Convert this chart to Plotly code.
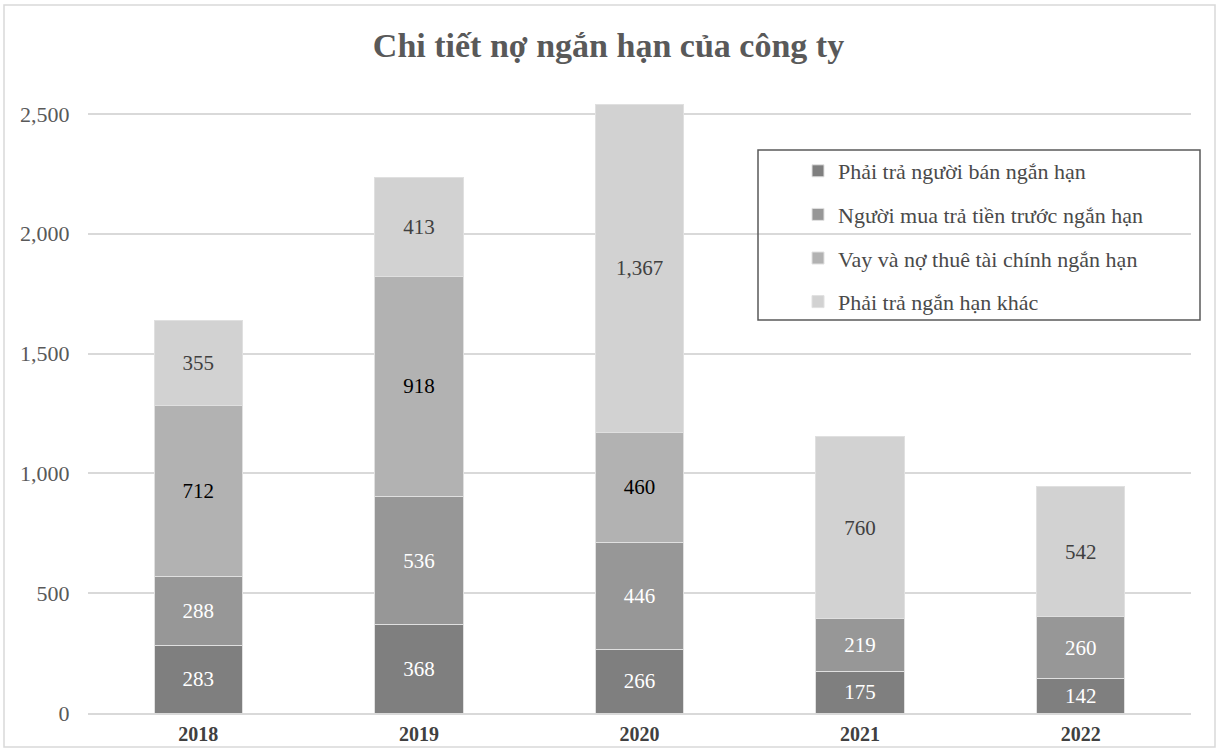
import plotly.graph_objects as go

years = ["2018", "2019", "2020", "2021", "2022"]
phai_tra_nguoi_ban = [283, 368, 266, 175, 142]
nguoi_mua_tra_truoc = [288, 536, 446, 219, 260]
vay_no_thue = [712, 918, 460, None, None]
phai_tra_khac = [355, 413, 1367, 760, 542]

series_names = [
    "Phải trả người bán ngắn hạn",
    "Người mua trả tiền trước ngắn hạn",
    "Vay và nợ thuê tài chính ngắn hạn",
    "Phải trả ngắn hạn khác",
]
series_values = [phai_tra_nguoi_ban, nguoi_mua_tra_truoc, vay_no_thue, phai_tra_khac]
colors = ["#7f7f7f", "#979797", "#b2b2b2", "#d2d2d2"]
text_colors = ["#ffffff", "#ffffff", "#000000", "#404040"]

FONT = "Liberation Serif, Times New Roman, serif"
W, H = 1217, 749
ML, MR, MT, MB = 88, 26, 90, 36
PW, PH = W - ML - MR, H - MT - MB


def px_x(x):
    return (x - ML) / PW


def px_y(y):
    return (H - MB - y) / PH


fig = go.Figure()
for i, (name, vals) in enumerate(zip(series_names, series_values)):
    fig.add_trace(go.Bar(
        x=years, y=vals, name=name,
        marker=dict(color=colors[i], line=dict(color="#e0e0e0", width=1)),
        texttemplate="%{y:,}", textposition="inside",
        insidetextanchor="middle", constraintext="none",
        textfont=dict(family=FONT, size=21, color=text_colors[i]),
        legendgroup=f"g{i}",
        hoverinfo="x+y+name",
    ))

fig.update_layout(
    width=W, height=H,
    margin=dict(l=ML, r=MR, t=MT, b=MB, autoexpand=False),
    barmode="stack", bargap=0.6,
    plot_bgcolor="white", paper_bgcolor="white",
    font=dict(family=FONT, color="#595959"),
    title=dict(text="<b>Chi tiết nợ ngắn hạn của công ty</b>",
               font=dict(family=FONT, size=34, color="#595959"),
               x=0.5, xanchor="center", y=1 - 45 / H, yanchor="middle"),
    legend=dict(
        x=px_x(798), y=px_y(150), xanchor="left", yanchor="top",
        traceorder="grouped", tracegroupgap=12,
        font=dict(family=FONT, size=22, color="#4a4a4a"),
        bgcolor="rgba(255,255,255,0)", borderwidth=0,
    ),
    xaxis=dict(
        automargin=False,
        showgrid=False, showline=True, linecolor="#d9d9d9", linewidth=1.5,
        ticks="outside", ticklen=2, tickcolor="rgba(0,0,0,0)",
        tickfont=dict(family=FONT, size=20, color="#404040", weight="bold"),
    ),
    yaxis=dict(
        automargin=False,
        range=[0, 2600], tickvals=[0, 500, 1000, 1500, 2000, 2500],
        tickformat=",", showgrid=True, gridcolor="#d9d9d9", gridwidth=1.5,
        zeroline=False, ticks="outside", ticklen=13, tickcolor="rgba(0,0,0,0)",
        tickfont=dict(family=FONT, size=22, color="#595959"),
    ),
    shapes=[
        dict(type="rect", xref="paper", yref="paper",
             x0=px_x(758), x1=px_x(1200), y0=px_y(150), y1=px_y(320),
             line=dict(color="#595959", width=1.5), fillcolor="rgba(0,0,0,0)"),
        dict(type="rect", xref="paper", yref="paper",
             x0=px_x(4), x1=px_x(1215), y0=px_y(5), y1=px_y(747),
             line=dict(color="#d9d9d9", width=1.5), fillcolor="rgba(0,0,0,0)",
             layer="below"),
    ],
)

fig.write_html(
    "out.html",
    config={"displayModeBar": False},
    post_script="document.body.style.margin='0';document.body.style.overflow='hidden';",
)
